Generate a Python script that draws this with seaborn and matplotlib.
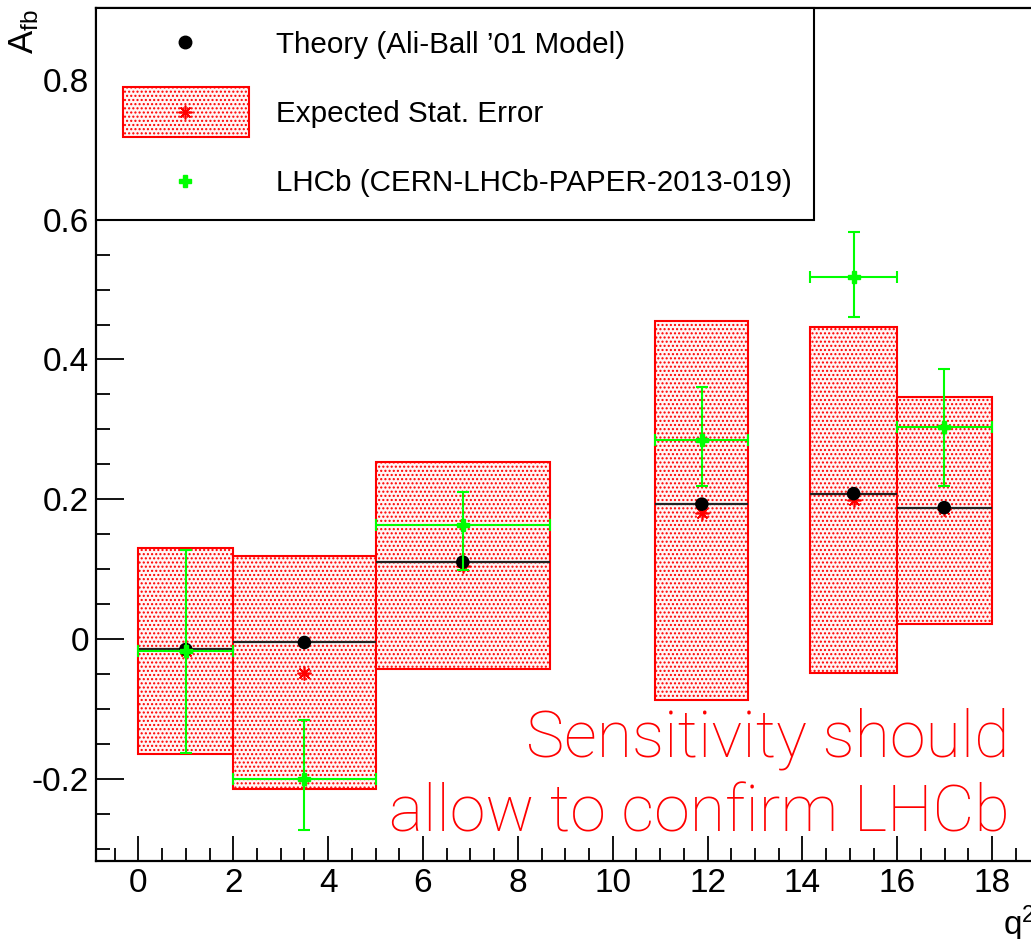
import numpy as np
import pandas as pd
import matplotlib
matplotlib.use('Agg')
import matplotlib.pyplot as plt
import seaborn as sns
from matplotlib.lines import Line2D
from matplotlib.patches import Rectangle
from matplotlib.legend_handler import HandlerPatch, HandlerTuple
from matplotlib.ticker import MultipleLocator, FuncFormatter

# ---------------- data ----------------
bin_lo = [0.0, 2.0, 5.0, 10.9, 14.16, 16.0]
bin_hi = [2.0, 5.0, 8.68, 12.86, 16.0, 18.0]
theory_x = [1.0, 3.5, 6.84, 11.88, 15.08, 16.99]
theory_afb = [-0.015, -0.005, 0.110, 0.193, 0.208, 0.188]
expected_afb = [-0.017, -0.048, 0.104, 0.181, 0.199, 0.186]
expected_lo = [-0.164, -0.215, -0.043, -0.088, -0.049, 0.022]
expected_hi = [0.130, 0.119, 0.253, 0.455, 0.447, 0.346]
lhcb_x = [1.0, 3.5, 6.84, 11.88, 15.08, 16.99]
lhcb_afb = [-0.017, -0.200, 0.163, 0.285, 0.518, 0.303]
lhcb_lo = [-0.163, -0.273, 0.099, 0.219, 0.461, 0.219]
lhcb_hi = [0.127, -0.116, 0.210, 0.360, 0.583, 0.387]
legend_labels = ["Theory (Ali-Ball \u201901 Model)", "Expected Stat. Error",
                 "LHCb (CERN-LHCb-PAPER-2013-019)"]

df = pd.DataFrame({
    "lo": bin_lo, "hi": bin_hi, "x": theory_x, "theory": theory_afb,
    "exp": expected_afb, "exp_lo": expected_lo, "exp_hi": expected_hi,
    "lx": lhcb_x, "lhcb": lhcb_afb, "l_lo": lhcb_lo, "l_hi": lhcb_hi,
})

# ---------------- style ----------------
sns.set_theme(style="ticks")
plt.rcParams['font.family'] = ['Liberation Sans', 'DejaVu Sans']
plt.rcParams['mathtext.default'] = 'regular'
plt.rcParams['axes.unicode_minus'] = False
plt.rcParams['hatch.linewidth'] = 1.0
plt.rcParams['text.color'] = 'black'
plt.rcParams['axes.labelcolor'] = 'black'
plt.rcParams['xtick.color'] = 'black'
plt.rcParams['ytick.color'] = 'black'

GREEN = '#00ff00'
RED = '#ff0000'
BOXFACE = '#fff6f6'

W, H = 1031, 939
fig = plt.figure(figsize=(W / 100, H / 100), dpi=100)
fig.patch.set_facecolor('white')

x_left_px, px_per_unit = 95.7, 47.43
xmin, xmax = -0.9, 20.0
y_top_px, y_bot_px = 8, 861
ax_w = (xmax - xmin) * px_per_unit
ax = fig.add_axes([x_left_px / W, (H - y_bot_px) / H, ax_w / W, (y_bot_px - y_top_px) / H])
ax.set_facecolor('white')
ax.set_xlim(xmin, xmax)
ax.set_ylim(-0.3177, 0.903)

# expected stat. error boxes
ax.bar(df["lo"], df["exp_hi"] - df["exp_lo"], width=df["hi"] - df["lo"], bottom=df["exp_lo"],
       align='edge', facecolor=BOXFACE, edgecolor=RED, hatch='....',
       linewidth=1.5, zorder=2)

# theory horizontal bars
ax.errorbar(df["x"], df["theory"], xerr=[df["x"] - df["lo"], df["hi"] - df["x"]],
            fmt='none', ecolor='#222222', elinewidth=1.6, capsize=0, zorder=3)

# expected central values (red asterisks)
ax.plot(df["x"], df["exp"], ls='none', marker=(8, 2, 0), ms=10, mew=1.2,
        color=RED, zorder=4)

# theory points
sns.scatterplot(data=df, x="x", y="theory", ax=ax, color='black', s=95,
                edgecolor='none', zorder=5, legend=False)

# LHCb measurement
ax.errorbar(df["lx"], df["lhcb"],
            xerr=[df["lx"] - df["lo"], df["hi"] - df["lx"]],
            yerr=[df["lhcb"] - df["l_lo"], df["l_hi"] - df["lhcb"]],
            fmt='P', color=GREEN, ecolor=GREEN, ms=9, mec=GREEN,
            elinewidth=1.5, capsize=4, capthick=1.5, zorder=6)

ax.set_xlabel("")
ax.set_ylabel("")

# ---------------- axes styling ----------------
for s in ax.spines.values():
    s.set_linewidth(1.6)
    s.set_color('black')
ax.xaxis.set_major_locator(MultipleLocator(2))
ax.xaxis.set_minor_locator(MultipleLocator(0.5))
ax.yaxis.set_major_locator(MultipleLocator(0.2))
ax.yaxis.set_minor_locator(MultipleLocator(0.05))

def fmt(v, p):
    v = round(v, 3)
    if abs(v) < 1e-9:
        return "0"
    return "%g" % v

ax.yaxis.set_major_formatter(FuncFormatter(fmt))
ax.xaxis.set_major_formatter(FuncFormatter(fmt))
ax.tick_params(which='both', direction='in', top=False, right=False, colors='black',
               labelsize=24, width=1.3, pad=5)
ax.tick_params(axis='x', which='major', length=18)
ax.tick_params(axis='x', which='minor', length=9.5)
ax.tick_params(axis='y', which='major', length=20)
ax.tick_params(axis='y', which='minor', length=10)

# axis titles
ax.set_ylabel("A$_{fb}$", fontsize=25, loc='top')
ax.yaxis.set_label_coords((41 - x_left_px) / ax_w, 0.998)
ax.set_xlabel("q$^{2}$", fontsize=24, loc='left')
ax.xaxis.set_label_coords((1003 - x_left_px) / ax_w, -0.05)

# ---------------- legend ----------------
def box_patch(legend, orig_handle, xdescent, ydescent, width, height, fontsize):
    bw = width * 126 / 132.4
    bx = -xdescent + width * 4.2 / 132.4
    bh = 36
    by = -ydescent + height / 2 - bh / 2
    return Rectangle((bx, by), bw, bh)

h_theory = Line2D([], [], ls='none', marker='o', ms=9, color='black')
h_box = Rectangle((0, 0), 1, 1, facecolor=BOXFACE, edgecolor=RED, hatch='....',
                  linewidth=1.5)
h_star = Line2D([], [], ls='none', marker=(8, 2, 0), ms=10, mew=1.2, color=RED)
h_lhcb = Line2D([], [], ls='none', marker='P', ms=9, color=GREEN)

leg = ax.legend([h_theory, (h_box, h_star), h_lhcb], legend_labels,
                handler_map={Rectangle: HandlerPatch(patch_func=box_patch),
                             tuple: HandlerTuple(ndivide=1, pad=0)},
                loc='upper left', bbox_to_anchor=(0, 1), bbox_transform=ax.transAxes,
                borderaxespad=0, borderpad=0.77, labelspacing=1.39,
                handlelength=4.47, handleheight=0.7, handletextpad=0.84,
                fontsize=21.3, frameon=True, fancybox=False, framealpha=1,
                edgecolor='black', facecolor='white', numpoints=1)
leg.get_frame().set_linewidth(1.5)
leg.set_zorder(10)
for t in leg.get_texts():
    t.set_color('black')

# ---------------- annotation ----------------
fig.text(1010 / W, 1 - 757 / H, "Sensitivity should", ha='right', va='baseline',
         color=RED, fontsize=46.5, family=['Roboto', 'DejaVu Sans'], fontweight='light')
fig.text(1010 / W, 1 - 831 / H, "allow to confirm LHCb", ha='right', va='baseline',
         color=RED, fontsize=46.5, family=['Roboto', 'DejaVu Sans'], fontweight='light')

fig.savefig("out.png", dpi=100)
